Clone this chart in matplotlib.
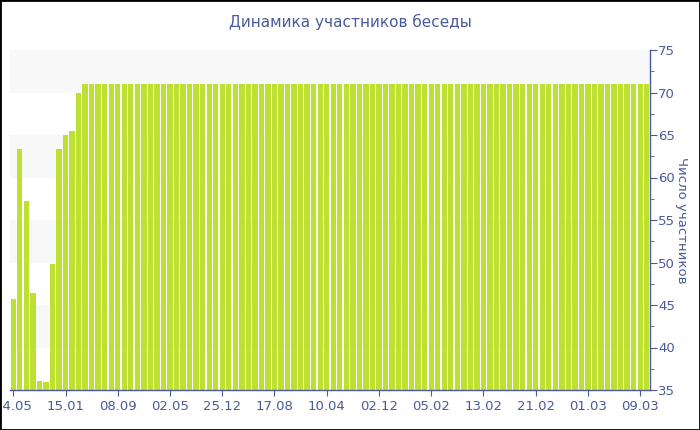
import matplotlib
matplotlib.use("Agg")
import matplotlib.pyplot as plt
from matplotlib.patches import Rectangle
from matplotlib.ticker import MultipleLocator

plt.rcParams['font.family'] = ['DejaVu Sans']

title = "Динамика участников беседы"
y_label = "Число участников"

values = [45.7, 63.4, 57.2, 46.4, 36.1, 36.0, 49.8, 63.4, 65.0, 65.5, 70.0,
          71, 71, 71, 71, 71, 71, 71, 71, 71, 71, 71, 71, 71, 71, 71, 71, 71, 71,
          71, 71, 71, 71, 71, 71, 71, 71, 71, 71, 71, 71, 71, 71, 71, 71, 71, 71,
          71, 71, 71, 71, 71, 71, 71, 71, 71, 71, 71, 71, 71, 71, 71, 71, 71, 71,
          71, 71, 71, 71, 71, 71, 71, 71, 71, 71, 71, 71, 71, 71, 71, 71, 71, 71,
          71, 71, 71, 71, 71, 71, 71, 71, 71, 71, 71, 71, 71, 71, 71]

tick_positions = [0, 8, 16, 24, 32, 40, 48, 56, 64, 72, 80, 88, 96]
tick_labels = ["24.05", "15.01", "08.09", "02.05", "25.12", "17.08", "10.04",
               "02.12", "05.02", "13.02", "21.02", "01.03", "09.03"]

y_min, y_max = 35, 75

axis_color = "#4a5a9c"
text_color = "#4a5a9c"
bar_color = "#bde032"
band_color = "#f8f8f8"

fig = plt.figure(figsize=(7, 4.3), dpi=100)
ax = fig.add_axes([10/700, 1-390/430, 640/700, 340/430])

n = len(values)
x = list(range(n))

# alternating bands
for lo in range(y_min, y_max, 5):
    if ((lo - y_min) // 5) % 2 == 1:
        ax.axhspan(lo, lo + 5, color=band_color, zorder=0, lw=0)

ax.bar(x, [v - y_min for v in values], bottom=y_min, width=0.82,
       color=bar_color, edgecolor='none', zorder=2)

ax.set_xlim(-0.5, n - 0.5)
ax.set_ylim(y_min, y_max)

ax.yaxis.tick_right()
ax.yaxis.set_label_position("right")
ax.yaxis.set_major_locator(MultipleLocator(5))
ax.yaxis.set_minor_locator(MultipleLocator(2.5))
ax.set_xticks(tick_positions)
ax.set_xticklabels(tick_labels)

for s in ['left', 'top']:
    ax.spines[s].set_visible(False)
for s in ['right', 'bottom']:
    ax.spines[s].set_color(axis_color)
    ax.spines[s].set_linewidth(1)

ax.tick_params(axis='both', colors=axis_color, labelcolor=text_color, labelsize=9.5)
ax.tick_params(axis='y', which='major', length=5, pad=1)
ax.tick_params(axis='y', which='minor', length=3, color=axis_color)
ax.tick_params(axis='x', length=4, pad=3)

ax.set_ylabel(y_label, rotation=270, color=text_color, fontsize=9.5, labelpad=9)

fig.text(350/700, 1-22/430, title, ha='center', va='center', color=text_color, fontsize=11)

fig.patches.append(Rectangle((0, 0), 1, 1, transform=fig.transFigure, fill=False,
                             edgecolor='black', linewidth=2, zorder=10))

fig.savefig("out.png", dpi=100)
